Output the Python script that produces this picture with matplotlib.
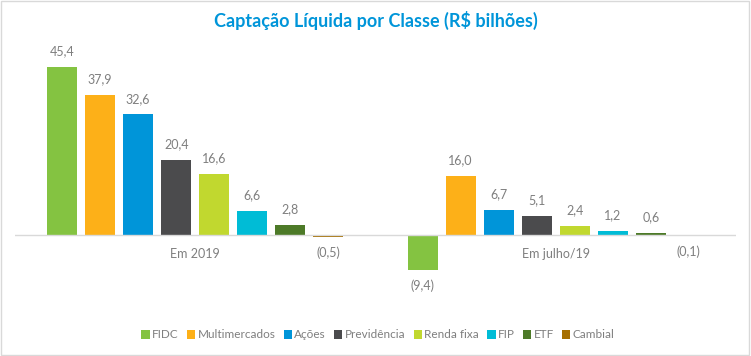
import numpy as np
from matplotlib import pyplot as plt
from matplotlib.patches import Rectangle

# Dados do grafico
grupos = ["Em 2019", "Em julho/19"]
classes = ["FIDC", "Multimercados", "Ações", "Previdência", "Renda fixa", "FIP", "ETF", "Cambial"]
valores_2019 = [45.4, 37.9, 32.6, 20.4, 16.6, 6.6, 2.8, -0.5]
valores_julho = [-9.4, 16.0, 6.7, 5.1, 2.4, 1.2, 0.6, -0.1]
cores = ["#84C341", "#FDB018", "#0095D9", "#4B4B4D", "#C1D82F", "#00BCD6", "#4D7A28", "#A66F00"]

plt.rcParams['font.family'] = ['Lato', 'DejaVu Sans']
cinza = "#7F7F7F"

def fmt(v):
    s = f"{abs(v):.1f}".replace(".", ",")
    return f"({s})" if v < 0 else s

fig = plt.figure(figsize=(7.51, 3.56), dpi=100)
ax = fig.add_axes([15/751, 1 - 298/356, 721/751, 248/356])

passo = 38/360
largura = 30/360
x = np.arange(len(grupos))
dados = np.array([valores_2019, valores_julho])

for j, nome in enumerate(classes):
    pos = x + (j - 3.5) * passo
    vals = dados[:, j]
    ax.bar(pos, vals, width=largura, color=cores[j], label=nome)
    for p, v in zip(pos, vals):
        if v >= 0:
            ax.annotate(fmt(v), (p, v), xytext=(0, 7), textcoords="offset points",
                        ha="center", va="bottom", fontsize=9, color=cinza)
        else:
            ax.annotate(fmt(v), (p, v), xytext=(0, -7), textcoords="offset points",
                        ha="center", va="top", fontsize=9, color=cinza)

ax.axhline(0, color="#D9D9D9", lw=1)
ax.set_xlim(-0.5, 1.5)
ax.set_ylim(-17, 50)
for s in ax.spines.values():
    s.set_visible(False)
ax.set_xticks([])
ax.set_yticks([])

# rotulos das categorias junto ao eixo
for xi, g in zip(x, grupos):
    ax.annotate(g, (xi, 0), xytext=(0, -9), textcoords="offset points",
                ha="center", va="top", fontsize=9, color=cinza)

fig.suptitle("Captação Líquida por Classe (R$ bilhões)", x=0.5, y=1 - 20/356, va="center",
             fontsize=13, fontweight="bold", color="#0095D9")

leg = fig.legend(loc="center", bbox_to_anchor=(378/751, 1 - 335/356), ncol=8, frameon=False,
                 fontsize=8.5, handlelength=0.7, handleheight=0.7, handletextpad=0.2,
                 columnspacing=0.7)
for t in leg.get_texts():
    t.set_color(cinza)

fig.patches.append(Rectangle((0.001, 0.002), 0.997, 0.995, transform=fig.transFigure,
                             fill=False, edgecolor="#D9D9D9", lw=1))

fig.savefig("out.png", dpi=100)
